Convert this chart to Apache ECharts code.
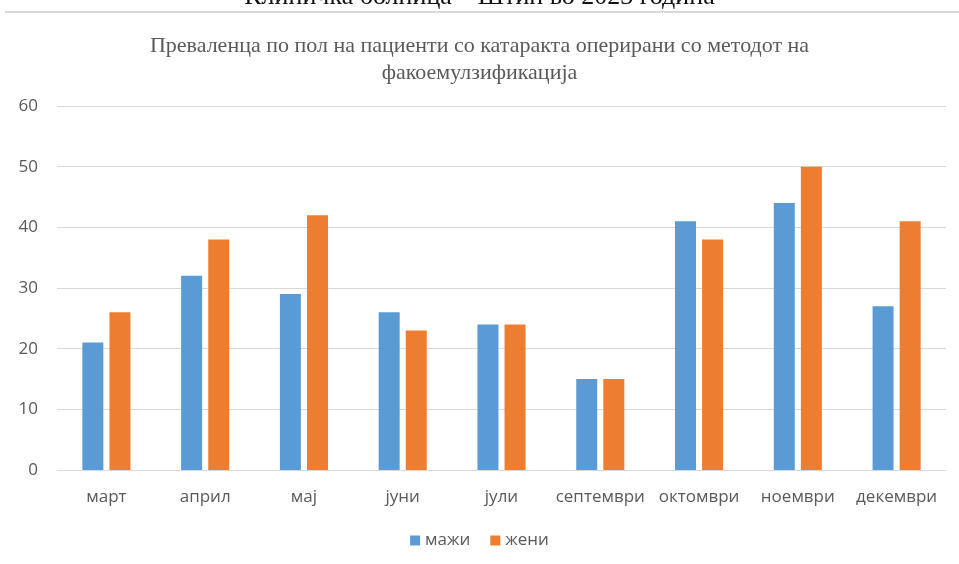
<!DOCTYPE html>
<html><head><meta charset="utf-8">
<script src="https://cdn.jsdelivr.net/npm/echarts@6/dist/echarts.min.js"></script>
<style>html,body{margin:0;padding:0;background:#fff}#c{width:959px;height:564px}</style>
</head><body><div id="c"></div>
<script>
const categories = ['март','април','мај','јуни','јули','септември','октомври','ноември','декември'];
const maleValues = [21,32,29,26,24,15,41,44,27];
const femaleValues = [26,38,42,23,24,15,38,50,41];
const seriesNames = ['мажи','жени'];
const chart = echarts.init(document.getElementById('c'));
chart.setOption({
  animation:false,
  backgroundColor:'#fff',
  title:{
    text:'Преваленца по пол на пациенти со катаракта оперирани со методот на\nфакоемулзификација',
    left:'center', top:28,
    textStyle:{fontFamily:'Liberation Serif', fontSize:22, fontWeight:'normal', color:'#595959', lineHeight:27}
  },
  graphic:[
    {type:'text', left:'center', top:-16, style:{text:'Клиничка болница – Штип во 2023 година', font:'26px "Liberation Serif"', fill:'#111'}},
    {type:'rect', shape:{x:5,y:11,width:954,height:2}, style:{fill:'#d9d9d9'}}
  ],
  legend:{
    data:seriesNames, bottom:10, left:'center', itemWidth:10, itemHeight:10, itemGap:20,
    icon:'rect',
    textStyle:{fontFamily:'Open Sans', fontSize:17, color:'#595959'}
  },
  grid:{left:57, right:13, top:106, bottom:94},
  xAxis:{
    type:'category', data:categories,
    axisLine:{lineStyle:{color:'#d9d9d9'}}, axisTick:{show:false},
    axisLabel:{fontFamily:'Open Sans', fontSize:17, color:'#595959', margin:19, interval:0}
  },
  yAxis:{
    type:'value', min:0, max:60, interval:10,
    axisLine:{show:false}, axisTick:{show:false},
    splitLine:{lineStyle:{color:'#d9d9d9'}},
    axisLabel:{fontFamily:'Open Sans', fontSize:17, color:'#595959', margin:19}
  },
  series:[
    {name:seriesNames[0], type:'bar', data:maleValues, barWidth:21, barGap:'29%', itemStyle:{color:'#5b9bd5'}},
    {name:seriesNames[1], type:'bar', data:femaleValues, barWidth:21, itemStyle:{color:'#ed7d31'}}
  ]
});
</script></body></html>
